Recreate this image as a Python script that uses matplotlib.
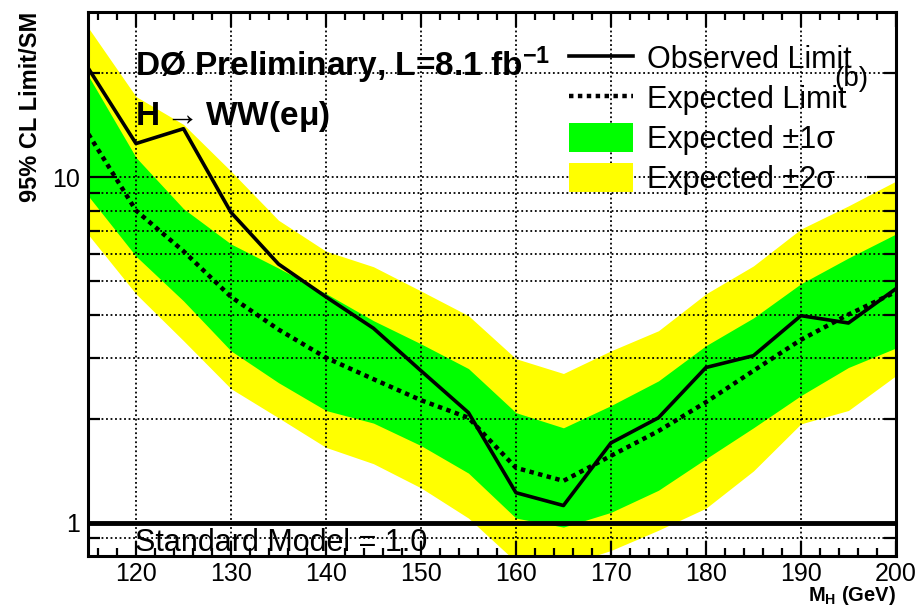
import matplotlib
matplotlib.use('Agg')
import matplotlib.pyplot as plt
from matplotlib.lines import Line2D
from matplotlib.patches import Patch
from matplotlib.ticker import FixedLocator, FixedFormatter, MultipleLocator, NullFormatter

plt.rcParams['font.family'] = ['Liberation Sans', 'DejaVu Sans']
plt.rcParams['mathtext.default'] = 'regular'

# Higgs mass points (GeV)
mass = [115, 120, 125, 130, 135, 140, 145, 150, 155, 160, 165, 170, 175, 180, 185, 190, 195, 200]

# limits / SM
observed = [20.6, 12.5, 13.8, 7.9, 5.6, 4.5, 3.65, 2.75, 2.08, 1.22, 1.12, 1.70, 2.01, 2.81, 3.04, 3.97, 3.78, 4.75]
expected = [13.3, 8.0, 6.1, 4.5, 3.62, 3.0, 2.6, 2.26, 2.01, 1.44, 1.32, 1.56, 1.84, 2.23, 2.75, 3.38, 4.0, 4.65]
plus1 = [19.6, 11.4, 8.1, 6.4, 5.45, 4.6, 3.84, 3.29, 2.79, 2.08, 1.88, 2.18, 2.57, 3.25, 3.91, 4.91, 5.83, 6.84]
minus1 = [8.8, 5.9, 4.38, 3.14, 2.54, 2.11, 1.94, 1.67, 1.39, 1.03, 0.97, 1.07, 1.24, 1.53, 1.88, 2.33, 2.81, 3.20]
plus2 = [27.0, 17.1, 14.2, 10.4, 7.5, 6.1, 5.5, 4.68, 3.97, 2.98, 2.70, 3.14, 3.59, 4.59, 5.53, 7.07, 8.25, 9.73]
minus2 = [6.8, 4.59, 3.36, 2.44, 2.01, 1.65, 1.48, 1.26, 1.03, 0.77, 0.75, 0.83, 0.95, 1.10, 1.41, 1.93, 2.11, 2.66]

y_major = [1, 10]
y_major_labels = ['1', '10']
y_minor = [0.9, 2, 3, 4, 5, 6, 7, 8, 9, 20]

fig = plt.figure(figsize=(9.17, 6.09), dpi=100)
ax = fig.add_axes([0.0965, 0.087, 0.8805, 0.893])

ax.fill_between(mass, minus2, plus2, color='#ffff00', lw=0, zorder=1)
ax.fill_between(mass, minus1, plus1, color='#00ff00', lw=0, zorder=1.5)
ax.plot(mass, expected, color='k', lw=3.2, ls=(0, (1, 1)), zorder=4)
ax.plot(mass, observed, color='k', lw=2.6, zorder=5)
ax.axhline(1.0, color='k', lw=3.5, zorder=6)

ax.set_yscale('log')
ax.set_xlim(115, 200)
ax.set_ylim(0.8, 30)

ax.xaxis.set_major_locator(MultipleLocator(10))
ax.xaxis.set_minor_locator(MultipleLocator(2))
ax.yaxis.set_major_locator(FixedLocator(y_major))
ax.yaxis.set_major_formatter(FixedFormatter(y_major_labels))
ax.yaxis.set_minor_locator(FixedLocator(y_minor))
ax.yaxis.set_minor_formatter(NullFormatter())

ax.set_axisbelow(False)
ax.grid(True, which='major', axis='x', color='k', lw=1.3, ls=(0, (1, 1.5)), zorder=3)
ax.grid(True, which='both', axis='y', color='k', lw=1.3, ls=(0, (1, 1.5)), zorder=3)

ax.tick_params(axis='both', which='both', direction='in', top=True, right=True, width=1.6, colors='k')
ax.tick_params(axis='x', which='major', length=11, labelsize=18, pad=4)
ax.tick_params(axis='x', which='minor', length=5.5)
ax.tick_params(axis='y', which='major', length=21, labelsize=18, pad=6)
ax.tick_params(axis='y', which='minor', length=8.5)
for s in ax.spines.values():
    s.set_linewidth(2.2)
    s.set_zorder(7)

ax.set_ylabel('95% CL Limit/SM', fontsize=17, fontweight='bold', loc='top')
ax.yaxis.set_label_coords(-0.058, 1.0)
ax.set_xlabel(r'M$_{H}$ (GeV)', fontsize=14.5, fontweight='bold', loc='right')
ax.xaxis.set_label_coords(1.0, -0.051)

ax.text(0.057, 0.903, r'DØ Preliminary, L=8.1 fb$^{-1}$', transform=ax.transAxes,
        fontsize=24, fontweight='bold', va='center', ha='left', zorder=8)
ax.text(0.057, 0.809, r'H$\rightarrow$WW(eμ)', transform=ax.transAxes,
        fontsize=24, fontweight='bold', va='center', ha='left', zorder=8)
ax.text(0.057, 0.024, 'Standard Model = 1.0', transform=ax.transAxes,
        fontsize=22, va='center', ha='left', zorder=8)
ax.text(0.945, 0.878, '(b)', transform=ax.transAxes,
        fontsize=20, va='center', ha='center', zorder=8)

handles = [Line2D([], [], color='k', lw=2.6),
           Line2D([], [], color='k', lw=3.2, ls=(0, (1, 1))),
           Patch(facecolor='#00ff00', edgecolor='none'),
           Patch(facecolor='#ffff00', edgecolor='none')]
labels = ['Observed Limit', 'Expected Limit', 'Expected ±1σ', 'Expected ±2σ']
leg = ax.legend(handles, labels, loc='upper left', bbox_to_anchor=(0.58, 0.965),
                frameon=False, fontsize=22, handlelength=2.1, handleheight=1.1,
                handletextpad=0.45, labelspacing=0.25, borderaxespad=0)
leg.set_zorder(8)

fig.savefig('out.png', dpi=100)
